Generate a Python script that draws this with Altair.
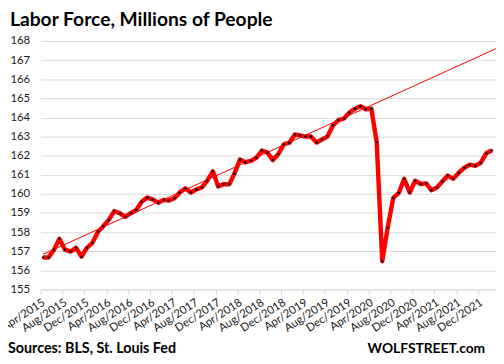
import altair as alt
import pandas as pd

title_text = "Labor Force, Millions of People"
source_text = "Sources: BLS, St. Louis Fed"
brand_text = "WOLFSTREET.com"

# monthly values (millions), as plotted starting at the Apr/2015 tick
labor_force = [
    156.67, 156.67, 157.08, 157.65, 157.08, 156.98, 157.18, 156.72, 157.18, 157.44,
    158.02, 158.31, 158.64, 159.10, 158.99, 158.80, 158.99, 159.16, 159.59, 159.81,
    159.71, 159.54, 159.69, 159.65, 159.77, 160.08, 160.29, 160.07, 160.24, 160.34,
    160.70, 161.18, 160.39, 160.51, 160.51, 161.06, 161.80, 161.66, 161.73, 161.89,
    162.27, 162.16, 161.77, 162.09, 162.59, 162.68, 163.11, 163.06, 163.00, 163.00,
    162.69, 162.85, 163.00, 163.59, 163.86, 163.95, 164.26, 164.46, 164.59, 164.43,
    164.46, 162.71, 156.48, 158.23, 159.79, 160.05, 160.79, 160.07, 160.69, 160.52,
    160.55, 160.19, 160.33, 160.65, 160.96, 160.79, 161.11, 161.37, 161.53, 161.47,
    161.63, 162.13, 162.28,
]
first_month = "2015-04-01"

trend_dates = ["2015-04-15", "2022-03-10"]
trend_values = [156.84, 167.6]

y_ticks = list(range(155, 169))
x_tick_start = "2015-04-01"
x_tick_end = "2021-12-01"

dates = (pd.date_range(first_month, periods=len(labor_force), freq="MS")
         + pd.Timedelta(days=14)).strftime("%Y-%m-%d")
df = pd.DataFrame({"date": dates, "value": labor_force})
trend_df = pd.DataFrame({"date": trend_dates, "value": trend_values})
tick_dates = pd.date_range(x_tick_start, x_tick_end, freq="4MS")
x_values = [alt.DateTime(year=int(d.year), month=int(d.month), date=1, utc=True) for d in tick_dates]

FONT = "Lato"
GRID = "#d9d9d9"
TXT = "#1a1a1a"

x_scale = alt.Scale(
    type="utc",
    domain=[alt.DateTime(year=2015, month=4, date=1, utc=True),
            alt.DateTime(year=2022, month=3, date=10, utc=True)],
)
y_scale = alt.Scale(domain=[155, 168], nice=False, zero=False)

x_axis = alt.Axis(
    values=x_values, format="%b/%Y", labelAngle=-33, labelFont=FONT, labelFontSize=11.5,
    labelColor=TXT, domainColor=GRID, tickColor=GRID, tickSize=5, grid=False,
    title=None, labelPadding=2, labelOverlap=False, labelBound=False,
)
y_axis = alt.Axis(
    values=y_ticks, labelFont=FONT, labelFontSize=11.5, labelColor=TXT, domain=False,
    ticks=False, gridColor=GRID, gridWidth=1, title=None, labelPadding=11,
    labelOverlap=False,
)

x_enc = alt.X("date:T", scale=x_scale, axis=x_axis)
y_enc = alt.Y("value:Q", scale=y_scale, axis=y_axis)

trend = alt.Chart(trend_df).mark_line(color="#ff0000", strokeWidth=1).encode(x=x_enc, y=y_enc)
line = alt.Chart(df).mark_line(color="#ff0000", strokeWidth=4.5, strokeJoin="round").encode(x=x_enc, y=y_enc)
dots = alt.Chart(df).mark_point(filled=True, color="#000000", size=6, opacity=1).encode(x=x_enc, y=y_enc)

one = alt.Data(values=[{}])
title_mark = alt.Chart(one).mark_text(
    text=title_text, font=FONT, fontSize=19.5, fontWeight="bold", color="#000000",
    align="left", baseline="alphabetic",
).encode(x=alt.value(-31), y=alt.value(-15.7))
source_mark = alt.Chart(one).mark_text(
    text=source_text, font=FONT, fontSize=14.5, fontWeight="bold", color="#000000",
    align="left", baseline="alphabetic",
).encode(x=alt.value(-33), y=alt.value(316))
brand_mark = alt.Chart(one).mark_text(
    text=brand_text, font=FONT, fontSize=14, fontWeight="bold", color="#000000",
    align="right", baseline="alphabetic",
).encode(x=alt.value(451), y=alt.value(316))

chart = alt.layer(trend, line, dots, title_mark, source_mark, brand_mark).properties(
    width=462, height=252,
    autosize=alt.AutoSizeParams(type="none"),
    padding={"left": 33, "top": 31, "right": 0, "bottom": 66},
    background="white",
).configure_view(stroke=None)

chart.save("out.html", embed_options={"renderer": "svg", "actions": False})
